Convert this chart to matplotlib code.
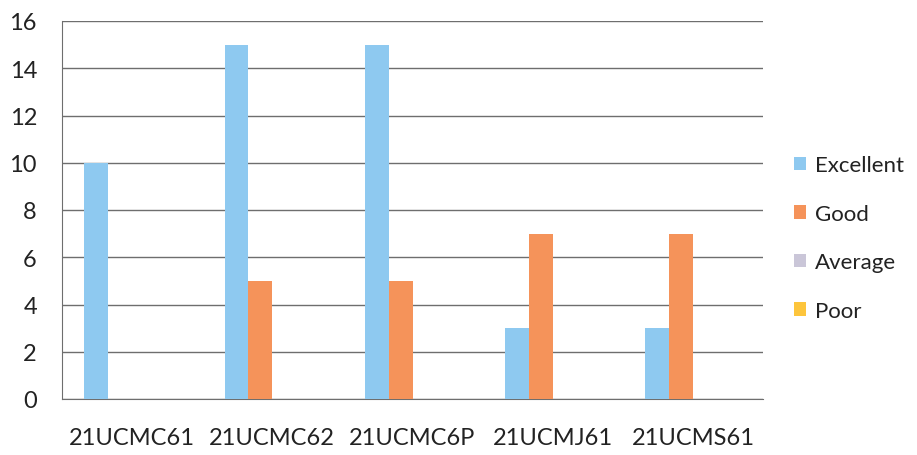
import numpy as np
import matplotlib
matplotlib.use("Agg")
import matplotlib.pyplot as plt
from matplotlib.patches import Patch

plt.rcParams["font.family"] = ["Lato", "DejaVu Sans"]

# -- Data --
courses   = ["21UCMC61", "21UCMC62", "21UCMC6P", "21UCMJ61", "21UCMS61"]
excellent = [10, 15, 15, 3, 3]
good      = [0, 5, 5, 7, 7]
average   = [0, 0, 0, 0, 0]
poor      = [0, 0, 0, 0, 0]

series = [
    ("Excellent", excellent, "#8ec9f0"),
    ("Good",      good,      "#f5935a"),
    ("Average",   average,   "#cac6d8"),
    ("Poor",      poor,      "#fdc53c"),
]

GRID = "#6e6e6e"
TEXT = "#222222"

fig = plt.figure(figsize=(9.17, 4.56), dpi=100, facecolor="white")
ax = fig.add_axes([62 / 917, 1 - 400 / 456, (763 - 62) / 917, (400 - 22) / 456])

x = np.arange(len(courses))
width = 0.17
for i, (name, vals, color) in enumerate(series):
    ax.bar(x + (i - 1.5) * width, vals, width=width, color=color, zorder=3)

ax.set_xlim(-0.5, len(courses) - 0.5)
ax.set_ylim(0, 16)
ax.set_yticks(range(0, 17, 2))
ax.set_xticks(x)
ax.set_xticklabels(courses)
ax.grid(axis="y", color=GRID, linewidth=1.0, zorder=0)
ax.tick_params(axis="both", length=0, labelsize=17, colors=TEXT)
ax.tick_params(axis="x", pad=20)
ax.tick_params(axis="y", pad=18)

for side in ["top", "right"]:
    ax.spines[side].set_visible(False)
ax.spines["left"].set_color(GRID)
ax.spines["bottom"].set_color(GRID)

handles = [Patch(facecolor=c, edgecolor="none", label=n) for n, _, c in series]
fig.legend(handles=handles, loc="center left", bbox_to_anchor=(774 / 917, 1 - 239 / 456),
           frameon=False, fontsize=16, labelspacing=1.28, handlelength=0.55,
           handleheight=0.55, handletextpad=0.4, labelcolor=TEXT)

fig.savefig("out.png", dpi=100, facecolor="white")
